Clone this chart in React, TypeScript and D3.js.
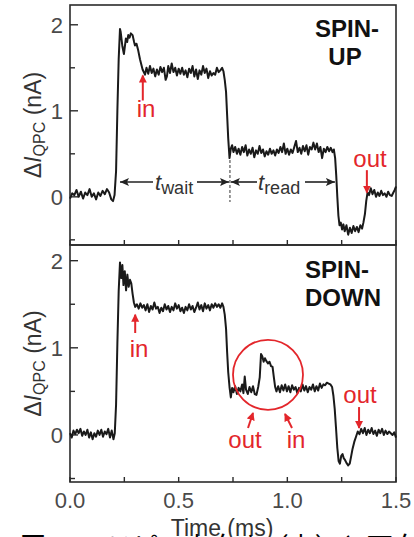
import React from "react";
import * as d3 from "d3";

// ---- data ----
const xTicks = [0, 0.25, 0.5, 0.75, 1.0, 1.25, 1.5];
const xTickLabels = [
  { v: 0, label: "0.0" },
  { v: 0.5, label: "0.5" },
  { v: 1.0, label: "1.0" },
  { v: 1.5, label: "1.5" },
];
const yMajorTicks = [0, 1, 2];
const yMinorTicks = [-0.5, 0.5, 1.5];

const spinUpTrace: [number, number][] = [
  [0.0, -0.02], [0.01, 0.04], [0.02, 0.02], [0.03, 0.08], [0.04, 0.0], [0.05, 0.06], [0.06, -0.02],
  [0.07, 0.05], [0.08, 0.02], [0.09, 0.09], [0.1, 0.0], [0.11, 0.04], [0.12, -0.03], [0.13, 0.05],
  [0.14, 0.01], [0.15, 0.07], [0.16, 0.03], [0.17, 0.09], [0.18, 0.05], [0.19, -0.03], [0.198, -0.05],
  [0.205, 0.02], [0.212, 0.3], [0.218, 1.0], [0.224, 1.6], [0.23, 1.95], [0.233, 1.92], [0.241, 1.75],
  [0.248, 1.66], [0.257, 1.84], [0.263, 1.8], [0.268, 1.88], [0.274, 1.85], [0.28, 1.9], [0.288, 1.88],
  [0.295, 1.8], [0.299, 1.76], [0.306, 1.78], [0.314, 1.7], [0.322, 1.6], [0.334, 1.48], [0.345, 1.42],
  [0.352, 1.5], [0.36, 1.43], [0.368, 1.52], [0.376, 1.44], [0.384, 1.49], [0.392, 1.4], [0.4, 1.48],
  [0.408, 1.42], [0.416, 1.51], [0.424, 1.45], [0.432, 1.5], [0.44, 1.36], [0.446, 1.4], [0.452, 1.52],
  [0.46, 1.44], [0.468, 1.55], [0.476, 1.45], [0.484, 1.5], [0.492, 1.41], [0.5, 1.49], [0.508, 1.43],
  [0.516, 1.5], [0.524, 1.42], [0.532, 1.47], [0.54, 1.39], [0.548, 1.49], [0.556, 1.44], [0.564, 1.52],
  [0.572, 1.4], [0.58, 1.48], [0.588, 1.37], [0.596, 1.47], [0.604, 1.42], [0.612, 1.52], [0.62, 1.44],
  [0.628, 1.49], [0.636, 1.38], [0.644, 1.46], [0.652, 1.41], [0.66, 1.44], [0.668, 1.42], [0.676, 1.5],
  [0.684, 1.45], [0.692, 1.47], [0.7, 1.5], [0.706, 1.46], [0.712, 1.36], [0.718, 1.22], [0.723, 0.95],
  [0.728, 0.68], [0.734, 0.45], [0.74, 0.56], [0.746, 0.6], [0.752, 0.52], [0.76, 0.58], [0.768, 0.5],
  [0.776, 0.56], [0.784, 0.49], [0.792, 0.58], [0.8, 0.52], [0.808, 0.6], [0.816, 0.48], [0.824, 0.55],
  [0.832, 0.5], [0.84, 0.57], [0.848, 0.46], [0.856, 0.54], [0.864, 0.5], [0.872, 0.59], [0.88, 0.51],
  [0.888, 0.55], [0.896, 0.47], [0.904, 0.53], [0.912, 0.49], [0.92, 0.56], [0.928, 0.5], [0.936, 0.54],
  [0.944, 0.48], [0.952, 0.55], [0.96, 0.51], [0.968, 0.58], [0.976, 0.52], [0.984, 0.62], [0.992, 0.5],
  [1.0, 0.56], [1.008, 0.49], [1.016, 0.55], [1.024, 0.51], [1.032, 0.58], [1.04, 0.65], [1.048, 0.52],
  [1.056, 0.57], [1.064, 0.5], [1.072, 0.59], [1.08, 0.53], [1.088, 0.6], [1.096, 0.49], [1.104, 0.58],
  [1.112, 0.55], [1.12, 0.63], [1.128, 0.55], [1.136, 0.62], [1.144, 0.52], [1.152, 0.58], [1.16, 0.45],
  [1.168, 0.56], [1.176, 0.52], [1.184, 0.58], [1.192, 0.53], [1.2, 0.57], [1.208, 0.52], [1.214, 0.55],
  [1.22, 0.45], [1.225, 0.25], [1.23, 0.0], [1.235, -0.22], [1.24, -0.33], [1.246, -0.3], [1.252, -0.38],
  [1.258, -0.32], [1.264, -0.4], [1.272, -0.33], [1.28, -0.44], [1.288, -0.36], [1.296, -0.42],
  [1.304, -0.34], [1.312, -0.4], [1.32, -0.35], [1.328, -0.41], [1.336, -0.33], [1.344, -0.37],
  [1.35, -0.3], [1.357, -0.2], [1.363, -0.05], [1.369, 0.05], [1.376, 0.02], [1.384, 0.1], [1.392, 0.03],
  [1.4, 0.08], [1.408, 0.0], [1.416, 0.05], [1.424, 0.01], [1.432, 0.07], [1.44, 0.02], [1.448, 0.04],
  [1.456, 0.0], [1.464, 0.06], [1.472, 0.02], [1.48, 0.01], [1.488, 0.05], [1.494, 0.08], [1.5, 0.12],
];

const spinDownTrace: [number, number][] = [
  [0.0, 0.02], [0.008, -0.03], [0.016, 0.05], [0.024, 0.01], [0.032, 0.06], [0.04, 0.02], [0.048, 0.07],
  [0.056, -0.01], [0.064, 0.04], [0.072, 0.0], [0.08, 0.06], [0.088, -0.03], [0.096, 0.03], [0.104, -0.05],
  [0.112, 0.02], [0.12, -0.02], [0.128, 0.05], [0.136, 0.0], [0.144, 0.06], [0.152, -0.02], [0.16, 0.04],
  [0.168, 0.01], [0.176, 0.07], [0.184, -0.03], [0.192, 0.05], [0.2, -0.05], [0.206, 0.02], [0.212, 0.35],
  [0.218, 1.05], [0.224, 1.65], [0.23, 1.98], [0.236, 1.8], [0.241, 1.95], [0.246, 1.72], [0.252, 1.88],
  [0.258, 1.66], [0.264, 1.84], [0.27, 1.7], [0.276, 1.78], [0.282, 1.74], [0.288, 1.62], [0.294, 1.52],
  [0.3, 1.47], [0.308, 1.5], [0.316, 1.45], [0.324, 1.51], [0.332, 1.46], [0.34, 1.49], [0.348, 1.43],
  [0.356, 1.5], [0.364, 1.41], [0.372, 1.48], [0.38, 1.44], [0.388, 1.52], [0.396, 1.45], [0.404, 1.47],
  [0.412, 1.4], [0.42, 1.46], [0.428, 1.42], [0.436, 1.5], [0.444, 1.44], [0.452, 1.48], [0.46, 1.41],
  [0.468, 1.47], [0.476, 1.43], [0.484, 1.51], [0.492, 1.45], [0.5, 1.49], [0.508, 1.42], [0.516, 1.46],
  [0.524, 1.4], [0.532, 1.47], [0.54, 1.43], [0.548, 1.5], [0.556, 1.44], [0.564, 1.48], [0.572, 1.41],
  [0.58, 1.46], [0.588, 1.52], [0.596, 1.44], [0.604, 1.49], [0.612, 1.42], [0.62, 1.51], [0.628, 1.45],
  [0.636, 1.49], [0.644, 1.43], [0.652, 1.5], [0.66, 1.46], [0.668, 1.51], [0.676, 1.47], [0.684, 1.5],
  [0.692, 1.46], [0.7, 1.51], [0.706, 1.47], [0.712, 1.38], [0.718, 1.22], [0.723, 0.95], [0.728, 0.72],
  [0.734, 0.55], [0.74, 0.43], [0.746, 0.54], [0.752, 0.49], [0.76, 0.56], [0.768, 0.47], [0.776, 0.54],
  [0.784, 0.5], [0.792, 0.58], [0.798, 0.48], [0.804, 0.67], [0.81, 0.52], [0.818, 0.47], [0.826, 0.55],
  [0.834, 0.49], [0.842, 0.56], [0.85, 0.47], [0.858, 0.46], [0.866, 0.55], [0.873, 0.66], [0.879, 0.93],
  [0.885, 0.9], [0.891, 0.84], [0.897, 0.88], [0.903, 0.85], [0.911, 0.82], [0.918, 0.84], [0.925, 0.79],
  [0.932, 0.78], [0.938, 0.66], [0.944, 0.55], [0.95, 0.5], [0.958, 0.56], [0.966, 0.49], [0.974, 0.57],
  [0.982, 0.51], [0.99, 0.58], [0.998, 0.5], [1.006, 0.56], [1.014, 0.49], [1.022, 0.57], [1.03, 0.52],
  [1.038, 0.55], [1.046, 0.48], [1.054, 0.54], [1.062, 0.5], [1.07, 0.58], [1.078, 0.51], [1.086, 0.56],
  [1.094, 0.49], [1.102, 0.55], [1.11, 0.52], [1.118, 0.58], [1.126, 0.5], [1.134, 0.56], [1.142, 0.51],
  [1.15, 0.59], [1.158, 0.54], [1.166, 0.58], [1.174, 0.57], [1.182, 0.6], [1.19, 0.59], [1.198, 0.58],
  [1.206, 0.55], [1.212, 0.45], [1.218, 0.3], [1.224, 0.08], [1.23, -0.15], [1.236, -0.3], [1.242, -0.33],
  [1.248, -0.24], [1.254, -0.22], [1.26, -0.27], [1.266, -0.29], [1.272, -0.32], [1.28, -0.35],
  [1.287, -0.33], [1.294, -0.24], [1.3, -0.16], [1.308, -0.08], [1.316, -0.02], [1.324, 0.04],
  [1.332, 0.01], [1.34, 0.07], [1.348, 0.02], [1.356, 0.08], [1.364, 0.0], [1.372, 0.06], [1.38, 0.02],
  [1.388, 0.08], [1.396, 0.01], [1.404, 0.05], [1.412, -0.01], [1.42, 0.06], [1.428, 0.02], [1.436, 0.07],
  [1.444, 0.0], [1.452, 0.05], [1.46, 0.01], [1.468, 0.04], [1.476, 0.02], [1.484, 0.0], [1.492, 0.03],
  [1.5, -0.03],
];

const panelTitles = [["SPIN-", "UP"], ["SPIN-", "DOWN"]];
const xAxisTitle = "Time (ms)";
const caption = "図 30　スピン上向き（上）と下向き（下）の読み出し";

// ---- layout ----
const W = 414;
const H = 537;
const LEFT = 70;
const RIGHT = 396;
const RED = "#e3262b";
const INK = "#1a1a1a";
const FONT = "'Liberation Sans', Arial, Helvetica, sans-serif";

const x = d3.scaleLinear().domain([0, 1.5]).range([LEFT, RIGHT]);
const yTop = d3.scaleLinear().domain([-0.56, 2.23]).range([245, 5]);
const yBot = d3.scaleLinear().domain([-0.54, 2.18]).range([482, 245]);

function Panel({
  y,
  data,
  top,
  bottom,
  children,
}: {
  y: d3.ScaleLinear<number, number>;
  data: [number, number][];
  top: number;
  bottom: number;
  children?: React.ReactNode;
}) {
  const line = d3
    .line<[number, number]>()
    .x((d) => x(d[0]))
    .y((d) => y(d[1]))
    .curve(d3.curveLinear);
  const cy = (top + bottom) / 2;
  return (
    <g>
      <rect x={LEFT} y={top} width={RIGHT - LEFT} height={bottom - top} fill="none" stroke="#2b2b2b" strokeWidth={1.6} />
      {xTicks.map((t) => (
        <line key={"xt" + t} x1={x(t)} x2={x(t)} y1={bottom} y2={bottom - 5} stroke="#2b2b2b" strokeWidth={1.4} />
      ))}
      {yMajorTicks.map((t) => (
        <g key={"ym" + t}>
          <line x1={LEFT} x2={LEFT + 8} y1={y(t)} y2={y(t)} stroke="#2b2b2b" strokeWidth={1.4} />
          <text x={63} y={y(t)} dy="0.36em" textAnchor="end" fontSize={22} fill="#4a4a4a" fontFamily={FONT}>
            {t}
          </text>
        </g>
      ))}
      {yMinorTicks.map((t) => (
        <line key={"yn" + t} x1={LEFT} x2={LEFT + 5} y1={y(t)} y2={y(t)} stroke="#2b2b2b" strokeWidth={1.4} />
      ))}
      <path d={line(data) || ""} fill="none" stroke={INK} strokeWidth={2} strokeLinejoin="round" />
      <text
        transform={`translate(41, ${cy}) rotate(-90)`}
        textAnchor="middle"
        fontSize={23}
        fill="#333"
        fontFamily={FONT}
      >
        Δ<tspan fontStyle="italic">I</tspan>
        <tspan fontSize={16} dy={4}>QPC</tspan>
        <tspan dy={-4}> (nA)</tspan>
      </text>
      {children}
    </g>
  );
}

function RedArrow({ x1, y1, x2, y2 }: { x1: number; y1: number; x2: number; y2: number }) {
  return <line x1={x1} y1={y1} x2={x2} y2={y2} stroke={RED} strokeWidth={2} markerEnd="url(#redHead)" />;
}

function RedLabel({ cx, by, text }: { cx: number; by: number; text: string }) {
  return (
    <text x={cx} y={by} textAnchor="middle" fontSize={24} fill={RED} fontFamily={FONT}>
      {text}
    </text>
  );
}

export default function App() {
  const tStart = 0.23;
  const tMid = 0.736;
  const tEnd = 1.219;
  const yArr = 182;
  return (
    <svg
      width={W}
      height={H}
      viewBox={`0 0 ${W} ${H}`}
      style={{ position: "absolute", left: 0, top: 0, background: "#fff" }}
    >
      <defs>
        <marker id="redHead" markerUnits="userSpaceOnUse" markerWidth={10} markerHeight={10} refX={7} refY={4} orient="auto">
          <path d="M0,0 L8,4 L0,8 Z" fill={RED} />
        </marker>
        <marker id="blkHead" markerUnits="userSpaceOnUse" markerWidth={12} markerHeight={10} refX={9} refY={4} orient="auto">
          <path d="M0,0 L9,4 L0,8 L2,4 Z" fill="#222" />
        </marker>
      </defs>
      <rect width={W} height={H} fill="#fff" />

      <Panel y={yTop} data={spinUpTrace} top={5} bottom={245}>
        <text x={347} y={37} textAnchor="middle" fontSize={24} fontWeight="bold" fill="#111" fontFamily={FONT}>
          {panelTitles[0][0]}
        </text>
        <text x={345} y={65} textAnchor="middle" fontSize={24} fontWeight="bold" fill="#111" fontFamily={FONT}>
          {panelTitles[0][1]}
        </text>
        {/* in */}
        <RedArrow x1={x(0.335)} y1={yTop(1.12)} x2={x(0.335)} y2={yTop(1.41)} />
        <RedLabel cx={x(0.35)} by={117} text="in" />
        {/* out */}
        <RedLabel cx={370} by={167} text="out" />
        <RedArrow x1={x(1.366)} y1={yTop(0.31)} x2={x(1.366)} y2={yTop(0.05)} />
        {/* t_wait / t_read */}
        <line x1={x(tMid)} x2={x(tMid)} y1={160} y2={202} stroke="#333" strokeWidth={1} strokeDasharray="3,2" />
        <line x1={153} y1={yArr} x2={x(tStart)} y2={yArr} stroke="#222" strokeWidth={1.6} markerEnd="url(#blkHead)" />
        <line x1={197} y1={yArr} x2={x(tMid) - 1} y2={yArr} stroke="#222" strokeWidth={1.6} markerEnd="url(#blkHead)" />
        <line x1={257} y1={yArr} x2={x(tMid) + 1} y2={yArr} stroke="#222" strokeWidth={1.6} markerEnd="url(#blkHead)" />
        <line x1={305} y1={yArr} x2={x(tEnd)} y2={yArr} stroke="#222" strokeWidth={1.6} markerEnd="url(#blkHead)" />
        <text x={155} y={190} fontSize={22} fill="#333" fontFamily={FONT}>
          <tspan fontStyle="italic">t</tspan>
          <tspan fontSize={18} dy={4}>wait</tspan>
        </text>
        <text x={258} y={190} fontSize={22} fill="#333" fontFamily={FONT}>
          <tspan fontStyle="italic">t</tspan>
          <tspan fontSize={18} dy={4}>read</tspan>
        </text>
      </Panel>

      <Panel y={yBot} data={spinDownTrace} top={245} bottom={482}>
        <text x={305} y={278} fontSize={24} fontWeight="bold" fill="#111" fontFamily={FONT}>
          {panelTitles[1][0]}
        </text>
        <text x={305} y={306} fontSize={24} fontWeight="bold" fill="#111" fontFamily={FONT}>
          {panelTitles[1][1]}
        </text>
        <RedArrow x1={x(0.3)} y1={yBot(1.17)} x2={x(0.3)} y2={yBot(1.38)} />
        <RedLabel cx={139} by={357} text="in" />
        <circle cx={x(0.911)} cy={yBot(0.69)} r={35} fill="none" stroke={RED} strokeWidth={1.8} />
        <RedArrow x1={248} y1={428} x2={253} y2={413} />
        <RedLabel cx={245} by={448} text="out" />
        <RedArrow x1={292} y1={428} x2={285} y2={414} />
        <RedLabel cx={296} by={448} text="in" />
        <RedLabel cx={360} by={403} text="out" />
        <RedArrow x1={x(1.33)} y1={yBot(0.32)} x2={x(1.33)} y2={yBot(0.08)} />
      </Panel>

      {xTickLabels.map((d) => (
        <text key={d.label} x={x(d.v)} y={508} textAnchor="middle" fontSize={22} fill="#4a4a4a" fontFamily={FONT}>
          {d.label}
        </text>
      ))}
      <text x={222} y={536} textAnchor="middle" fontSize={23} fill="#333" fontFamily={FONT}>
        {xAxisTitle}
      </text>
      <text x={20} y={556} fontSize={26} fill="#000" fontFamily="'Noto Sans CJK JP', serif">
        {caption}
      </text>
    </svg>
  );
}
